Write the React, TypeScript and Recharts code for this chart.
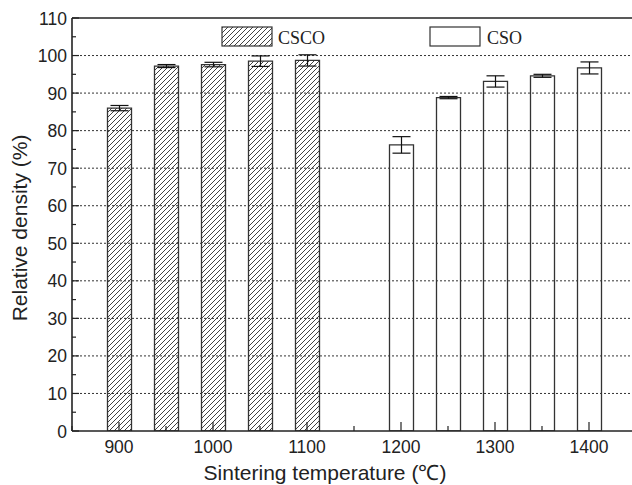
import React from "react";
import {
  ComposedChart,
  Bar,
  Cell,
  ErrorBar,
  XAxis,
  YAxis,
  ReferenceLine,
  Customized,
} from "recharts";

const cscoTemps = [900, 950, 1000, 1050, 1100];
const cscoDensity = [86.0, 97.2, 97.6, 98.5, 98.7];
const cscoError = [0.7, 0.4, 0.6, 1.4, 1.5];

const csoTemps = [1200, 1250, 1300, 1350, 1400];
const csoDensity = [76.2, 88.8, 93.1, 94.6, 96.7];
const csoError = [2.2, 0.3, 1.5, 0.4, 1.6];

const xTicks = [850, 900, 950, 1000, 1050, 1100, 1150, 1200, 1250, 1300, 1350, 1400, 1450];
const yTicks = [0, 5, 10, 15, 20, 25, 30, 35, 40, 45, 50, 55, 60, 65, 70, 75, 80, 85, 90, 95, 100, 105, 110];
const gridValues = [10, 20, 30, 40, 50, 60, 70, 80, 90, 100];

type Row = { t: number; density: number; err: number; series: "CSCO" | "CSO" };

const rows: Row[] = [
  ...cscoTemps.map((t, i) => ({ t, density: cscoDensity[i], err: cscoError[i], series: "CSCO" as const })),
  ...csoTemps.map((t, i) => ({ t, density: csoDensity[i], err: csoError[i], series: "CSO" as const })),
];

const SANS = "'Liberation Sans', Arial, sans-serif";
const SERIF = "'Liberation Serif', 'Times New Roman', serif";
const INK = "#222";

function XTick(props: { x?: number; y?: number; payload?: { value: number } }) {
  const { x = 0, y = 0, payload } = props;
  const v = payload?.value ?? 0;
  const major = v % 100 === 0;
  return (
    <g>
      <line x1={x} y1={y} x2={x} y2={y - (major ? 9 : 5)} stroke={INK} strokeWidth={1.2} />
      {major && (
        <text x={x} y={y + 22} textAnchor="middle" fontSize={17.5} fontFamily={SANS} fill={INK}>
          {v}
        </text>
      )}
    </g>
  );
}

function YTick(props: { x?: number; y?: number; payload?: { value: number } }) {
  const { x = 0, y = 0, payload } = props;
  const v = payload?.value ?? 0;
  const major = v % 10 === 0;
  return (
    <g>
      <line x1={x} y1={y} x2={x + (major ? 7 : 4)} y2={y} stroke={INK} strokeWidth={1.2} />
      {major && (
        <text x={x - 5} y={y + 6.5} textAnchor="end" fontSize={17.5} fontFamily={SANS} fill={INK}>
          {v}
        </text>
      )}
    </g>
  );
}

function Decorations() {
  return (
    <g>
      <defs>
        <pattern id="hatch" width="5" height="5" patternUnits="userSpaceOnUse">
          <path d="M-1,1 l2,-2 M0,5 l5,-5 M4,6 l2,-2" stroke="#111" strokeWidth={0.8} />
        </pattern>
      </defs>
      {/* legend */}
      <rect x={222} y={27} width={50} height={19} fill="url(#hatch)" stroke="#333" strokeWidth={1.2} />
      <text x={278} y={44} fontSize={18} fontFamily={SERIF} fill={INK}>CSCO</text>
      <rect x={430} y={27} width={50} height={19} fill="#fff" stroke="#333" strokeWidth={1.2} />
      <text x={487} y={44} fontSize={18} fontFamily={SERIF} fill={INK}>CSO</text>
      {/* axis titles */}
      <text x={325} y={480} textAnchor="middle" fontSize={21} fontFamily={SANS} fill={INK}>
        Sintering temperature (℃)
      </text>
      <text
        x={27}
        y={228}
        textAnchor="middle"
        fontSize={21}
        fontFamily={SANS}
        fill={INK}
        transform="rotate(-90 27 228)"
      >
        Relative density (%)
      </text>
    </g>
  );
}

export default function App() {
  return (
    <div style={{ position: "absolute", left: 0, top: 0, width: 632, height: 485, overflow: "hidden", background: "#fff" }}>
      <ComposedChart width={636} height={485} data={rows} margin={{ top: 18, right: 0, bottom: 0, left: 0 }}>
        {gridValues.map((g) => (
          <ReferenceLine key={g} y={g} stroke="#333" strokeWidth={1} strokeDasharray="2 2" />
        ))}
        <ReferenceLine y={110} stroke={INK} strokeWidth={1.6} />
        <XAxis
          dataKey="t"
          type="number"
          domain={[850, 1450]}
          ticks={xTicks}
          interval={0}
          height={54}
          tickSize={0}
          tickMargin={0}
          tickLine={false}
          axisLine={{ stroke: INK, strokeWidth: 1.6 }}
          tick={<XTick />}
          allowDataOverflow
        />
        <YAxis
          type="number"
          domain={[0, 110]}
          ticks={yTicks}
          interval={0}
          width={72}
          tickSize={0}
          tickMargin={0}
          tickLine={false}
          axisLine={{ stroke: INK, strokeWidth: 1.6 }}
          tick={<YTick />}
          allowDataOverflow
        />
        <Bar dataKey="density" barSize={24} stroke="#333" strokeWidth={1.3} isAnimationActive={false}>
          {rows.map((r) => (
            <Cell key={r.t} fill={r.series === "CSCO" ? "url(#hatch)" : "#fff"} />
          ))}
          <ErrorBar dataKey="err" width={9} stroke="#111" strokeWidth={1.2} />
        </Bar>
        <Customized component={Decorations} />
      </ComposedChart>
    </div>
  );
}
